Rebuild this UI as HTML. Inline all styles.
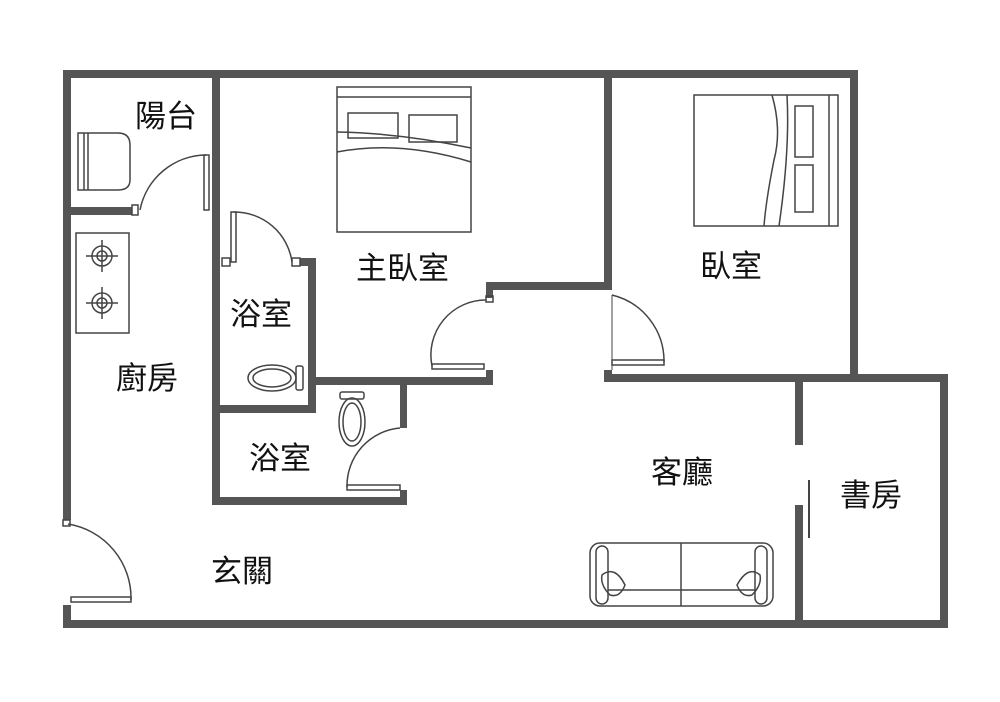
<!DOCTYPE html>
<html><head><meta charset="utf-8"><style>
html,body{margin:0;padding:0;background:#fff;}
svg{display:block}
text{font-family:"Liberation Sans","Noto Sans CJK TC",sans-serif;font-size:31px;fill:#111;}
</style></head><body>
<svg width="1000" height="702" viewBox="0 0 1000 702">
<g fill="#555">
<!-- outer top -->
<rect x="63" y="70" width="795" height="8"/>
<!-- left wall -->
<rect x="63" y="70" width="8" height="450"/>
<rect x="63" y="605" width="8" height="23"/>
<!-- bottom -->
<rect x="63" y="620" width="885" height="8"/>
<!-- bedroom right -->
<rect x="850" y="70" width="8" height="312"/>
<!-- study top -->
<rect x="604" y="374" width="344" height="8"/>
<rect x="940" y="374" width="8" height="254"/>
<!-- study left -->
<rect x="795" y="378" width="8" height="67"/>
<rect x="795" y="505" width="8" height="118"/>
<!-- balcony/kitchen divider -->
<rect x="212" y="70" width="8" height="435"/>
<rect x="63" y="207" width="69" height="8"/>
<!-- upper bath right wall -->
<rect x="300" y="258" width="16" height="8"/>
<rect x="308" y="258" width="8" height="154"/>
<rect x="212" y="405" width="104" height="8"/>
<!-- master bottom -->
<rect x="316" y="377" width="177" height="8"/>
<rect x="486" y="370" width="7" height="15"/>
<!-- lower bath -->
<rect x="400" y="384" width="7" height="44"/>
<rect x="212" y="497" width="195" height="8"/>
<rect x="400" y="490" width="7" height="15"/>
<!-- master right -->
<rect x="604" y="70" width="8" height="220"/>
<rect x="486" y="282" width="126" height="8"/>
<rect x="486" y="282" width="7" height="16"/>
<rect x="604" y="370" width="8" height="12"/>
</g>
<g fill="none" stroke="#444" stroke-width="1.5">
<!-- balcony door -->
<rect x="204" y="155" width="5" height="55"/>
<path d="M140 210 A68 68 0 0 1 206 155"/>
<rect x="132" y="205" width="6" height="10"/>
<!-- washer -->
<path d="M78 133 H118 Q130 133 130 145 V180 Q130 190 118 190 H78 Z"/>
<line x1="84" y1="133" x2="84" y2="190"/><line x1="88" y1="133" x2="88" y2="190"/>
<!-- stove -->
<rect x="76" y="233" width="53" height="100"/>
<circle cx="102" cy="256" r="10"/><circle cx="102" cy="256" r="5"/>
<circle cx="102" cy="303" r="10"/><circle cx="102" cy="303" r="5"/>
<path d="M102 240V272M86 256H118M102 287V319M86 303H118"/>
<!-- upper bath door -->
<rect x="231" y="212" width="5" height="50"/>
<path d="M234 212 A58 58 0 0 1 292 262"/>
<rect x="222" y="258" width="8" height="8"/>
<rect x="292" y="258" width="8" height="8"/>
<!-- toilet 1 -->
<ellipse cx="272" cy="378" rx="24" ry="13"/><ellipse cx="272" cy="378" rx="19" ry="9"/>
<rect x="296" y="366" width="7" height="24" rx="2"/>
<!-- toilet 2 -->
<ellipse cx="352" cy="422" rx="13" ry="24"/><ellipse cx="352" cy="422" rx="9" ry="19"/>
<rect x="340" y="392" width="24" height="7" rx="2"/>
<!-- lower bath door -->
<rect x="347" y="485" width="53" height="5"/>
<path d="M347 487 A58 58 0 0 1 400 428"/>
<!-- master door -->
<rect x="432" y="364" width="52" height="5"/>
<path d="M432 366 A55 55 0 0 1 486 300"/>
<rect x="486" y="296" width="7" height="6"/>
<!-- bedroom door -->
<line x1="612" y1="295" x2="612" y2="370" stroke-width="1"/>
<rect x="612" y="360" width="52" height="5"/>
<path d="M612 295 A68 68 0 0 1 664 362"/>
<!-- master bed -->
<rect x="337" y="87" width="134" height="145"/>
<line x1="337" y1="97" x2="471" y2="97"/>
<rect x="348" y="113" width="50" height="25"/><rect x="409" y="115" width="48" height="27"/>
<path d="M337 132 Q400 133 471 148"/>
<path d="M337 152 Q400 140 471 162"/>
<!-- bedroom bed -->
<rect x="694" y="95" width="144" height="131"/>
<line x1="829" y1="95" x2="829" y2="226"/>
<rect x="795" y="106" width="18" height="51"/><rect x="795" y="165" width="18" height="47"/>
<path d="M772 95 Q782 130 774 160 Q766 200 764 226"/>
<path d="M787 95 Q790 150 779 226"/>
<!-- sliding door study -->
<line x1="809" y1="480" x2="809" y2="538" stroke-width="2"/>
<!-- entry door -->
<rect x="63" y="520" width="7" height="6"/>
<rect x="71" y="597" width="60" height="5"/>
<path d="M68 524 A75 75 0 0 1 131 600"/>
<!-- sofa -->
<rect x="590" y="543" width="183" height="63" rx="10"/>
<rect x="596" y="546" width="12" height="58" rx="6"/><rect x="755" y="546" width="12" height="58" rx="6"/>
<line x1="681" y1="543" x2="681" y2="606"/>
<line x1="608" y1="590" x2="755" y2="590"/>
<path d="M602 575 Q615 565 625 585 Q620 598 610 595 Q600 585 602 575Z"/>
<path d="M760 575 Q748 565 737 585 Q742 598 752 595 Q762 585 760 575Z"/>
</g>
<text x="135" y="127">陽台</text>
<text x="356" y="279">主臥室</text>
<text x="700" y="277">臥室</text>
<text x="230" y="325">浴室</text>
<text x="116" y="389">廚房</text>
<text x="249" y="469">浴室</text>
<text x="651" y="483">客廳</text>
<text x="840" y="506">書房</text>
<text x="211" y="582">玄關</text>
</svg>
</body></html>
